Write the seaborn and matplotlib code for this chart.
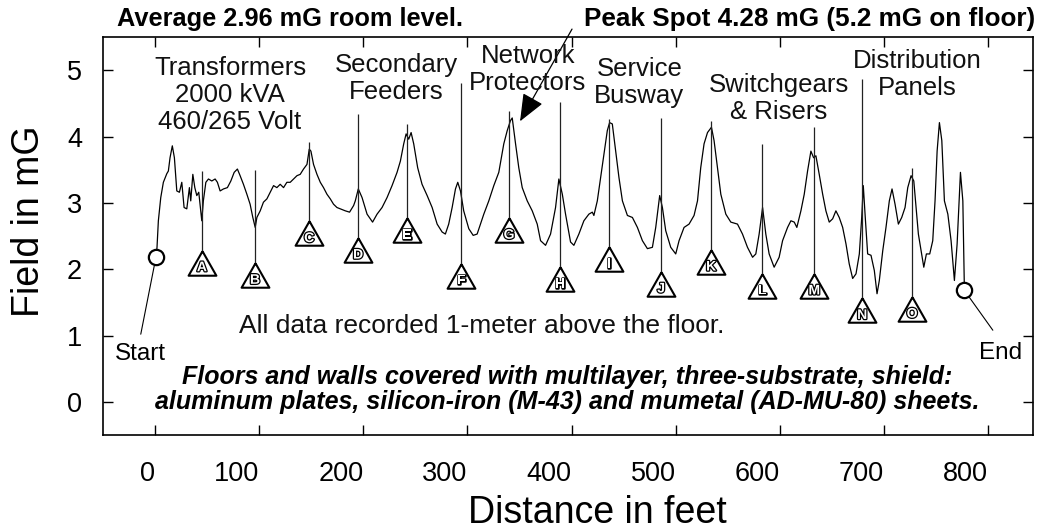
import numpy as np
import pandas as pd
import matplotlib
matplotlib.use("Agg")
import matplotlib.pyplot as plt
import matplotlib.patheffects as pe
import seaborn as sns

# ---------------- data ----------------
distance_ft = [1.0, 1.9, 3.2, 5.5, 8.0, 11.3, 12.8, 14.4, 16.6, 18.6, 20.9, 23.4, 25.7, 27.9, 30.5,
               33.0, 34.3, 36.3, 38.2, 40.1, 42.0, 44.9, 46.4, 48.8, 51.3, 54.5, 57.7, 59.9, 62.5,
               65.7, 69.5, 72.8, 76.0, 79.1, 81.7, 84.9, 88.2, 91.3, 93.9, 96.2, 97.8, 101.0, 104.1,
               107.4, 110.6, 113.8, 117.0, 120.2, 123.4, 126.6, 129.8, 133.0, 136.3, 139.4, 142.6,
               145.9, 148.1, 149.7, 152.2, 155.5, 158.7, 161.8, 165.1, 168.3, 171.4, 174.7, 177.9,
               182.7, 186.8, 190.7, 192.3, 195.2, 198.8, 203.6, 208.9, 213.2, 218.0, 222.8, 227.6,
               232.4, 235.6, 238.8, 241.1, 243.6, 245.9, 248.4, 252.2, 256.4, 261.3, 266.1, 270.9,
               275.7, 278.8, 282.0, 285.3, 288.5, 290.7, 293.3, 296.4, 301.3, 305.5, 309.3, 312.5,
               315.7, 320.5, 325.3, 330.1, 334.9, 338.2, 341.3, 343.0, 346.2, 349.3, 352.6, 357.4,
               362.2, 367.0, 370.2, 375.0, 379.8, 384.6, 387.8, 391.1, 394.2, 399.0, 402.2, 407.0,
               411.8, 416.6, 419.9, 421.4, 424.7, 427.9, 431.1, 434.3, 436.5, 439.1, 442.3, 445.5,
               448.8, 453.6, 458.4, 463.2, 468.0, 472.8, 477.6, 480.8, 484.6, 487.2, 490.4, 495.2,
               500.0, 503.2, 508.0, 512.8, 517.6, 520.9, 524.0, 527.2, 530.5, 534.3, 536.8, 540.1,
               543.3, 548.1, 552.9, 559.3, 564.1, 568.9, 573.8, 576.9, 580.1, 583.4, 586.5, 589.7,
               594.5, 599.3, 602.6, 607.4, 610.6, 613.8, 616.3, 620.2, 623.4, 626.6, 629.8, 632.4,
               634.6, 637.8, 641.1, 644.2, 647.4, 650.7, 653.8, 657.0, 660.3, 663.5, 666.6, 669.9,
               673.1, 676.3, 678.6, 680.1, 682.0, 684.3, 687.5, 690.7, 693.3, 695.5, 698.8, 701.9,
               705.1, 707.7, 710.6, 713.8, 717.0, 720.2, 722.8, 726.0, 728.6, 730.8, 733.0, 735.6,
               738.2, 740.7, 743.9, 746.8, 749.0, 751.0, 753.2, 755.5, 758.0, 761.3, 764.4, 767.6,
               770.2, 773.4, 775.7, 777.2]
field_mG = [2.19, 2.33, 2.73, 3.08, 3.31, 3.44, 3.48, 3.68, 3.86, 3.68, 3.18, 3.16, 3.31, 2.93, 2.91,
            3.23, 3.03, 3.43, 3.23, 3.11, 3.16, 2.73, 3.03, 3.31, 3.36, 3.33, 3.36, 3.31, 3.18,
            3.21, 3.23, 3.33, 3.46, 3.51, 3.41, 3.28, 3.13, 2.98, 2.78, 2.63, 2.78, 2.88, 3.01,
            3.06, 3.16, 3.26, 3.23, 3.28, 3.23, 3.31, 3.31, 3.36, 3.41, 3.43, 3.51,
            3.58, 3.81, 3.78, 3.58, 3.43, 3.31, 3.23, 3.13, 3.06, 2.98, 2.93, 2.91,
            2.88, 2.86, 2.96, 3.03, 3.21, 3.08, 2.83, 2.71, 2.83, 2.93, 3.08, 3.26,
            3.46, 3.63, 3.89, 4.04, 3.96, 4.06, 3.89, 3.53, 3.28, 3.11, 2.93, 2.68,
            2.56, 2.53, 2.68, 2.93, 3.21, 3.31, 3.18, 2.88, 2.61, 2.51, 2.53, 2.68,
            2.83, 3.03, 3.26, 3.46, 3.89, 4.09, 4.24, 4.28, 3.89, 3.53, 3.23, 3.03,
            2.88, 2.68, 2.43, 2.36, 2.53, 2.93, 3.36, 3.13, 2.83, 2.41, 2.36, 2.53,
            2.73, 2.83, 2.86, 2.81, 3.03, 3.38, 3.74, 4.09, 4.21, 4.19, 3.78, 3.38,
            3.03, 2.81, 2.78, 2.63, 2.43, 2.31, 2.33, 2.63, 3.11, 2.93, 2.58, 2.33,
            2.23, 2.43, 2.63, 2.68, 2.81, 3.03, 3.53, 3.89, 4.06, 4.14, 3.94, 3.53,
            3.13, 2.83, 2.71, 2.68, 2.53, 2.33, 2.18, 2.23, 2.53, 2.93, 2.53, 2.23,
            2.03, 2.18, 2.43, 2.63, 2.73, 2.71, 2.63, 2.88, 3.13, 3.48, 3.78, 3.68,
            3.71, 3.43, 3.13, 2.88, 2.71, 2.76, 2.88, 2.78, 2.63, 2.38, 2.08, 1.86,
            1.93, 2.23, 2.78, 3.26, 2.78, 2.23, 2.21, 1.98, 1.63, 1.83, 2.28, 2.63,
            3.03, 3.21, 2.98, 2.68, 2.78, 2.93, 3.23, 3.41, 3.33, 2.93, 2.53, 2.28,
            2.03, 2.23, 2.23, 2.43, 3.03, 3.78, 4.21, 3.94, 3.03, 2.83, 2.43, 1.83,
            2.38, 3.46, 3.03, 1.68]

marker_labels = list("ABCDEFGHIJKLMNO")
marker_x = [45, 96, 148, 195, 242, 294, 340, 389, 436, 486, 534, 583, 633, 679, 727]
marker_y = [2.10, 1.91, 2.54, 2.29, 2.59, 1.90, 2.59, 1.85, 2.15, 1.78, 2.11, 1.75, 1.75, 1.38, 1.40]
marker_top = [3.48, 3.50, 3.92, 4.34, 4.19, 4.81, 4.38, 4.52, 4.27, 4.28, 4.24, 3.89, 4.14, 4.87, 3.53]

cat_text = ["Transformers\n2000 kVA\n460/265 Volt", "Secondary\nFeeders", "Network\nProtectors",
            "Service\nBusway", "Switchgears\n& Risers", "Distribution\nPanels"]
cat_x = [72, 232, 358, 465, 599, 732]
cat_y = [4.63, 4.87, 5.01, 4.82, 4.57, 4.93]

x_ticks = [0, 100, 200, 300, 400, 500, 600, 700, 800]
x_tick_labels = [str(v) for v in x_ticks]
y_ticks = [0, 1, 2, 3, 4, 5]
y_tick_labels = [str(v) for v in y_ticks]

# ---------------- style ----------------
sns.set_style("ticks")
plt.rcParams['font.family'] = ['Liberation Sans', 'DejaVu Sans']
plt.rcParams['text.color'] = 'black'
plt.rcParams['xtick.color'] = 'black'
plt.rcParams['ytick.color'] = 'black'
plt.rcParams['xtick.labelcolor'] = 'black'
plt.rcParams['ytick.labelcolor'] = 'black'

fig = plt.figure(figsize=(10.4, 5.3), dpi=100)
ax = fig.add_axes([0.099, 0.1792, 0.8942, 0.7509])

df = pd.DataFrame({"Distance": distance_ft, "Field": field_mG})
sns.lineplot(data=df, x="Distance", y="Field", ax=ax, color="black", lw=0.9,
             sort=False, estimator=None, zorder=3)

# marker lines and triangles
ax.vlines(marker_x, marker_y, marker_top, color="#222222", lw=0.9, zorder=4)
tri = [(0, 0.88), (-1, -0.88), (1, -0.88), (0, 0.88)]
ax.plot(marker_x, marker_y, linestyle="none", marker=tri, ms=20, mfc="white",
        mec="black", mew=1.5, zorder=5)
for lab, mx, my in zip(marker_labels, marker_x, marker_y):
    ax.text(mx, my - 0.07, lab, ha="center", va="center", fontsize=10, fontweight="bold",
            family=["Liberation Sans Narrow", "Liberation Sans"], color="white", zorder=6,
            path_effects=[pe.withStroke(linewidth=1.8, foreground="black")])

# start / end
ax.plot([distance_ft[0], -13.7], [field_mG[0], 1.02], color="black", lw=0.8, zorder=3,
        clip_on=False)
ax.plot([distance_ft[-1], 804.5], [field_mG[-1], 1.08], color="black", lw=0.8, zorder=3,
        clip_on=False)
ax.plot([distance_ft[0], distance_ft[-1]], [field_mG[0], field_mG[-1]], linestyle="none",
        marker="o", ms=11, mfc="white", mec="black", mew=1.6, zorder=6)
ax.text(-14.4, 0.72, "Start", ha="center", va="center", fontsize=17.5)
ax.text(812, 0.73, "End", ha="center", va="center", fontsize=17.5)

# category labels
for t, cx, cy in zip(cat_text, cat_x, cat_y):
    ax.text(cx, cy, t, ha="center", va="center", fontsize=18.5, color="#111111",
            linespacing=1.15, zorder=7)

ax.text(314, 1.14, "All data recorded 1-meter above the floor.", ha="center", va="center",
        fontsize=19, color="#111111")
ax.text(396, 0.37, "Floors and walls covered with multilayer, three-substrate, shield:",
        ha="center", va="center", fontsize=18, fontweight="bold", style="italic")
ax.text(396, 0.0, "aluminum plates, silicon-iron (M-43) and mumetal (AD-MU-80) sheets.",
        ha="center", va="center", fontsize=18, fontweight="bold", style="italic")

# arrow to peak
ax.annotate("", xy=(350.5, 4.23), xytext=(400.4, 5.62),
            arrowprops=dict(arrowstyle="-|>,head_length=0.85,head_width=0.35",
                            mutation_scale=20, color="black", lw=0.9,
                            shrinkA=0, shrinkB=0),
            annotation_clip=False)

# titles
fig.text(117 / 1040, 1 - 26 / 530, "Average 2.96 mG room level.", ha="left",
         va="baseline", fontsize=18.3, fontweight="bold")
fig.text(1035 / 1040, 1 - 26 / 530, "Peak Spot 4.28 mG (5.2 mG on floor)", ha="right",
         va="baseline", fontsize=18.8, fontweight="bold")

# axes
ax.set_xlim(-50, 843)
ax.set_ylim(-0.5, 5.5)
ax.set_xticks(x_ticks)
ax.set_xticklabels(x_tick_labels, ha="right")
ax.set_yticks(y_ticks)
ax.set_yticklabels(y_tick_labels)
ax.tick_params(axis="both", direction="in", top=True, right=True, length=7, width=1,
               labelsize=19.5, color="black", labelcolor="black")
ax.tick_params(axis="x", pad=19)
ax.tick_params(axis="y", pad=15)
for s in ax.spines.values():
    s.set_linewidth(1.2)
    s.set_color("black")
ax.set_xlabel("")
ax.set_ylabel("")
fig.text(0.574, 1 - 513 / 530, "Distance in feet", ha="center", va="center", fontsize=27)
fig.text(29 / 1040, 1 - 221 / 530, "Field in mG", ha="center", va="center", fontsize=27,
         rotation=90)

fig.savefig("out.png", dpi=100)
